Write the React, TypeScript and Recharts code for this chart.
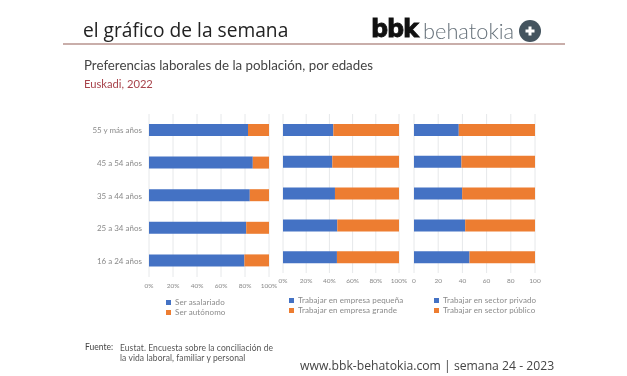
import { BarChart, Bar, XAxis, YAxis, CartesianGrid, Legend } from "recharts";

const ages = ["55 y más años", "45 a 54 años", "35 a 44 años", "25 a 34 años", "16 a 24 años"];
const asalariado = [82.5, 86.5, 84, 81, 79.5];
const autonomo = [17.5, 13.5, 16, 19, 20.5];
const pequena = [43.4, 42.5, 44.8, 46.8, 46.5];
const grande = [56.6, 57.5, 55.2, 53.2, 53.5];
const privado = [37, 39.2, 39.8, 42.3, 45.9];
const publico = [63, 60.8, 60.2, 57.7, 54.1];
const ticks = [0, 20, 40, 60, 80, 100];

const BLUE = "#4472c4";
const ORANGE = "#ed7d31";
const GREY = "#8a8a8a";
const FONT = "Lato, sans-serif";

const toRows = (a: number[], b: number[]) => ages.map((age, i) => ({ age, a: a[i], b: b[i] }));

// default tick wraps "55 y más años", so draw it on one line
const AgeTick = ({ x, y, payload }: any) => (
  <text x={x + 1} y={y} dy={3} textAnchor="end" fontSize={8} fill={GREY} fontFamily={FONT}>
    {payload.value}
  </text>
);

type PanelProps = {
  a: number[];
  b: number[];
  nameA: string;
  nameB: string;
  left: number;
  width: number;
  height: number;
  marginLeft: number;
  marginRight: number;
  tickSize: number;
  axisHeight: number;
  legendLeft: number;
  legendWidth: number;
  showAges?: boolean;
  percent?: boolean;
};

const Panel = ({ a, b, nameA, nameB, left, width, height, marginLeft, marginRight, tickSize, axisHeight, legendLeft, legendWidth, showAges, percent }: PanelProps) => (
  <div style={{ position: "absolute", left, top: 105 }}>
    <BarChart
      width={width}
      height={height}
      layout="vertical"
      data={toRows(a, b)}
      margin={{ top: 9, right: marginRight, bottom: 0, left: marginLeft }}
      barSize={12}
    >
      <CartesianGrid horizontal={false} stroke="#e6e8ea" />
      <XAxis
        type="number"
        domain={[0, 100]}
        ticks={ticks}
        height={axisHeight}
        tickSize={tickSize}
        tickFormatter={(v: number) => (percent ? `${v}%` : `${v}`)}
        tick={{ fontSize: 6.5, fill: GREY, fontFamily: FONT }}
        axisLine={false}
        tickLine={false}
        interval={0}
      />
      <YAxis
        type="category"
        dataKey="age"
        width={showAges ? 89 : 0}
        hide={!showAges}
        tick={AgeTick}
        axisLine={false}
        tickLine={false}
      />
      <Legend
        layout="horizontal"
        align="left"
        verticalAlign="bottom"
        iconType="square"
        iconSize={5}
        width={legendWidth}
        height={24}
        itemSorter={null}
        wrapperStyle={{ left: legendLeft, fontFamily: FONT, fontSize: 8, lineHeight: "10px", letterSpacing: 0.1 }}
        formatter={(value: string) => <span style={{ color: GREY }}>{value}</span>}
      />
      <Bar dataKey="a" name={nameA} stackId="s" fill={BLUE} isAnimationActive={false} />
      <Bar dataKey="b" name={nameB} stackId="s" fill={ORANGE} isAnimationActive={false} />
    </BarChart>
  </div>
);

const text = (left: number, top: number, size: number, color: string, family = FONT) => ({
  position: "absolute" as const,
  left,
  top,
  fontSize: size,
  lineHeight: "1",
  color,
  fontFamily: family,
  whiteSpace: "nowrap" as const,
});

export default function App() {
  return (
    <div style={{ position: "absolute", left: 0, top: 0, width: 627, height: 376, background: "#fff", overflow: "hidden", filter: "blur(0.3px)" }}>
      <div style={text(83, 20, 19.2, "#222", "'Open Sans', sans-serif")}>el gráfico de la semana</div>
      <div style={{ position: "absolute", left: 63, top: 43, width: 502, height: 2, background: "#c9aeaa" }} />
      <div style={{ ...text(371, 17, 24, "#111", "'DejaVu Sans', sans-serif"), WebkitTextStroke: "0.8px #111" }}>
        <b style={{ letterSpacing: -1.2 }}>bbk</b>
      </div>
      <div style={{ ...text(423, 20, 21.8, "#66717a"), fontWeight: 300 }}>behatokia</div>
      <svg style={{ position: "absolute", left: 518, top: 19 }} width={24} height={24}>
        <circle cx={12} cy={12} r={11} fill="#44545f" />
        <path d="M12 7.5v9M7.5 12h9" stroke="#fff" strokeWidth={3} />
      </svg>
      <div style={text(84, 59, 13.3, "#444")}>Preferencias laborales de la población, por edades</div>
      <div style={text(84, 78, 11.2, "#a8444c")}>Euskadi, 2022</div>

      <Panel a={asalariado} b={autonomo} nameA="Ser asalariado" nameB="Ser autónomo" left={60} width={220} height={216} marginLeft={0} marginRight={11} tickSize={4} axisHeight={20} legendLeft={106} legendWidth={100} showAges percent />
      <Panel a={pequena} b={grande} nameA="Trabajar en empresa pequeña" nameB="Trabajar en empresa grande" left={275} width={145} height={213.5} marginLeft={8} marginRight={21} tickSize={3} axisHeight={21.5} legendLeft={14} legendWidth={131} percent />
      <Panel a={privado} b={publico} nameA="Trabajar en sector privado" nameB="Trabajar en sector público" left={405} width={145} height={213.5} marginLeft={9} marginRight={15} tickSize={3} axisHeight={21.5} legendLeft={29} legendWidth={115} />

      <div style={text(85, 343, 8.5, "#444")}>Fuente:</div>
      <div style={{ ...text(120, 343, 8.5, "#555"), lineHeight: "10px", letterSpacing: 0.08 }}>
        Eustat. Encuesta sobre la conciliación de
        <br />
        la vida laboral, familiar y personal
      </div>
      <div style={text(300, 360, 12.2, "#444", "'Open Sans', sans-serif")}>www.bbk-behatokia.com | semana 24 - 2023</div>
    </div>
  );
}
